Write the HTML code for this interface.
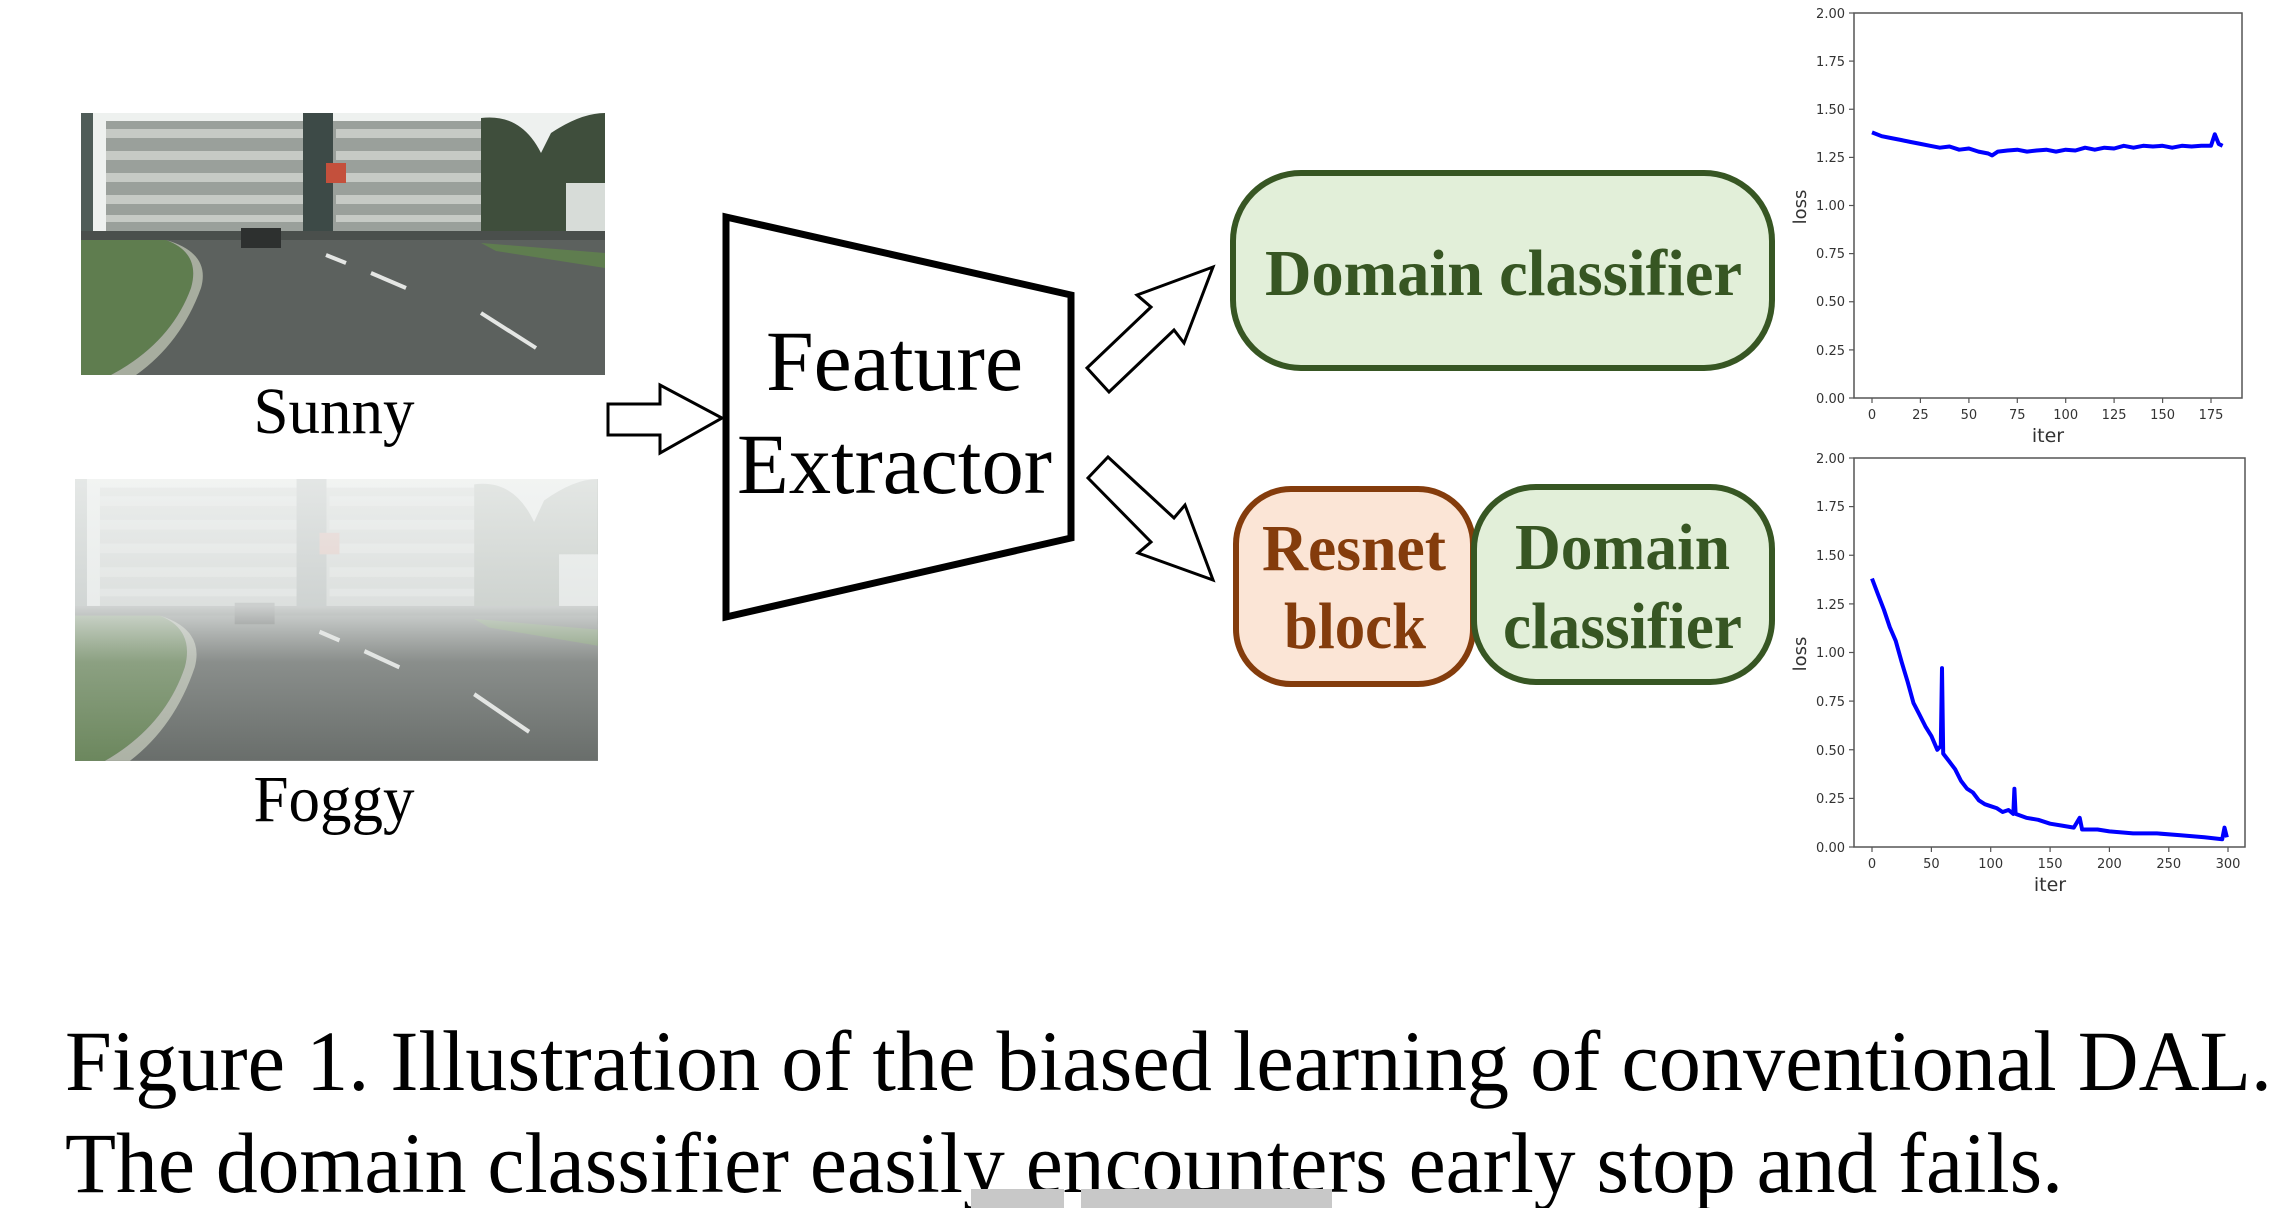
<!DOCTYPE html>
<html><head><meta charset="utf-8"><style>html,body{margin:0;padding:0;background:#fff}svg{display:block}</style></head>
<body>
<svg width="2285" height="1208" viewBox="0 0 2285 1208" xmlns="http://www.w3.org/2000/svg">
<defs>
<g id="scene">
  <rect x="0" y="0" width="524" height="262" fill="#eef1ef"/>
  <rect x="25" y="8" width="380" height="117" fill="#9aa09b"/>
  <g fill="#c6cac5">
    <rect x="25" y="16" width="215" height="9"/><rect x="255" y="16" width="150" height="9"/>
    <rect x="25" y="38" width="215" height="9"/><rect x="255" y="38" width="150" height="9"/>
    <rect x="25" y="60" width="215" height="9"/><rect x="255" y="60" width="150" height="9"/>
    <rect x="25" y="82" width="215" height="9"/><rect x="255" y="82" width="150" height="9"/>
    <rect x="25" y="102" width="215" height="7"/><rect x="255" y="102" width="150" height="7"/>
  </g>
  <rect x="222" y="0" width="30" height="125" fill="#3d4a47"/>
  <rect x="245" y="50" width="20" height="20" fill="#c4503c"/>
  <rect x="0" y="0" width="12" height="130" fill="#4f5c58"/>
  <path d="M400 5 Q440 0 460 40 L470 20 Q500 0 524 0 L524 135 L400 135 Z" fill="#3f4e3c"/>
  <rect x="485" y="70" width="39" height="60" fill="#d7dcd8"/>
  <rect x="0" y="118" width="524" height="14" fill="#4a4f4c"/>
  <path d="M0 127 L524 127 L524 262 L0 262 Z" fill="#5c615e"/>
  <path d="M0 127 L85 127 Q120 140 110 175 Q90 230 30 262 L0 262 Z" fill="#5f7d4f"/>
  <path d="M85 127 Q130 140 120 175 Q100 230 55 262 L30 262 Q90 230 110 175 Q120 140 85 127Z" fill="#a7ad9f"/>
  <path d="M400 130 L524 140 L524 155 L415 138 Z" fill="#5f7d4f"/>
  <path d="M160 115 h40 v20 h-40z" fill="#2d302f"/>
  <g stroke="#e4e6e4" stroke-width="4">
    <line x1="245" y1="142" x2="265" y2="150"/><line x1="290" y1="160" x2="325" y2="175"/><line x1="400" y1="200" x2="455" y2="235"/>
  </g>
</g>
<linearGradient id="fog" x1="0" y1="0" x2="0" y2="1">
  <stop offset="0" stop-color="#f2f4f3" stop-opacity="0.92"/>
  <stop offset="0.45" stop-color="#e8ebea" stop-opacity="0.85"/>
  <stop offset="0.65" stop-color="#dfe2e0" stop-opacity="0.35"/>
  <stop offset="1" stop-color="#dfe2e0" stop-opacity="0.1"/>
</linearGradient>
</defs>

<g transform="translate(81,113)"><use href="#scene"/></g>
<g transform="translate(75,479) scale(0.998,1.076)"><use href="#scene"/><rect width="524" height="262" fill="url(#fog)"/></g>

<g font-family="'Liberation Serif', serif" fill="#000">
<text x="334" y="433" font-size="66" text-anchor="middle" textLength="161" lengthAdjust="spacingAndGlyphs">Sunny</text>
<text x="334" y="821" font-size="66" text-anchor="middle" textLength="161" lengthAdjust="spacingAndGlyphs">Foggy</text>
</g>

<polygon points="608,404 660,404 660,385 722,418 660,453 660,435 608,435" fill="#fff" stroke="#000" stroke-width="3"/>

<polygon points="726,217 1071,295 1071,538 726,617" fill="#fff" stroke="#000" stroke-width="7" stroke-linejoin="miter"/>
<g font-family="'Liberation Serif', serif" fill="#000" font-size="86">
<text x="766" y="390" textLength="257" lengthAdjust="spacingAndGlyphs">Feature</text>
<text x="737" y="493" textLength="315" lengthAdjust="spacingAndGlyphs">Extractor</text>
</g>

<polygon points="1087,368 1151,307 1137,295 1213,267 1184,343 1174,330 1109,392" fill="#fff" stroke="#000" stroke-width="3" stroke-linejoin="miter"/>
<polygon points="1108,457 1174,518 1185,505 1213,580 1138,553 1151,542 1088,478" fill="#fff" stroke="#000" stroke-width="3" stroke-linejoin="miter"/>

<rect x="1233" y="173" width="539" height="195" rx="68" fill="#e2efd9" stroke="#375623" stroke-width="6"/>
<rect x="1236" y="489" width="237" height="195" rx="55" fill="#fbe5d6" stroke="#843c0c" stroke-width="6"/>
<rect x="1474" y="487" width="298" height="195" rx="62" fill="#e2efd9" stroke="#375623" stroke-width="6"/>
<g font-family="'Liberation Serif', serif" font-weight="bold" font-size="66">
<text x="1265" y="295" fill="#375623" textLength="477" lengthAdjust="spacingAndGlyphs">Domain classifier</text>
<text x="1262" y="570" fill="#843c0c" textLength="184" lengthAdjust="spacingAndGlyphs">Resnet</text>
<text x="1284" y="648" fill="#843c0c" textLength="142" lengthAdjust="spacingAndGlyphs">block</text>
<text x="1515" y="569" fill="#375623" textLength="215" lengthAdjust="spacingAndGlyphs">Domain</text>
<text x="1503" y="648" fill="#375623" textLength="239" lengthAdjust="spacingAndGlyphs">classifier</text>
</g>

<g font-family="'DejaVu Sans', sans-serif" fill="#333" font-size="13">
<rect x="1854" y="13" width="388" height="385" fill="none" stroke="#555" stroke-width="1.5"/>
<g stroke="#555" stroke-width="1.2">
<line x1="1849" y1="398" x2="1854" y2="398"/><line x1="1849" y1="349.9" x2="1854" y2="349.9"/><line x1="1849" y1="301.75" x2="1854" y2="301.75"/><line x1="1849" y1="253.6" x2="1854" y2="253.6"/><line x1="1849" y1="205.5" x2="1854" y2="205.5"/><line x1="1849" y1="157.4" x2="1854" y2="157.4"/><line x1="1849" y1="109.25" x2="1854" y2="109.25"/><line x1="1849" y1="61.1" x2="1854" y2="61.1"/><line x1="1849" y1="13" x2="1854" y2="13"/>
<line x1="1872" y1="398" x2="1872" y2="403"/><line x1="1920.4" y1="398" x2="1920.4" y2="403"/><line x1="1968.9" y1="398" x2="1968.9" y2="403"/><line x1="2017.3" y1="398" x2="2017.3" y2="403"/><line x1="2065.7" y1="398" x2="2065.7" y2="403"/><line x1="2114.1" y1="398" x2="2114.1" y2="403"/><line x1="2162.6" y1="398" x2="2162.6" y2="403"/><line x1="2211" y1="398" x2="2211" y2="403"/>
</g>
<g text-anchor="end">
<text x="1845" y="403">0.00</text><text x="1845" y="355">0.25</text><text x="1845" y="306">0.50</text><text x="1845" y="258">0.75</text><text x="1845" y="210">1.00</text><text x="1845" y="162">1.25</text><text x="1845" y="114">1.50</text><text x="1845" y="66">1.75</text><text x="1845" y="18">2.00</text>
</g>
<g text-anchor="middle">
<text x="1872" y="419">0</text><text x="1920.4" y="419">25</text><text x="1968.9" y="419">50</text><text x="2017.3" y="419">75</text><text x="2065.7" y="419">100</text><text x="2114.1" y="419">125</text><text x="2162.6" y="419">150</text><text x="2211" y="419">175</text>
<text x="2048" y="442" font-size="19">iter</text>
<text transform="translate(1806,207) rotate(-90)" font-size="18">loss</text>
</g>
<polyline fill="none" stroke="#0000ff" stroke-width="4" stroke-linejoin="round" points="1872,132.4 1881.7,136.2 1891.4,138.1 1901.1,140 1910.7,142 1920.4,143.9 1930.1,145.8 1939.8,147.7 1949.5,146.5 1959.2,149.7 1968.9,148.5 1978.5,151.6 1988.2,153.5 1992.1,155.4 1997.9,151.6 2007.6,150.5 2017.3,149.7 2027,151.6 2036.6,150.5 2046.3,149.7 2056,151.6 2065.7,149.7 2075.4,150.5 2085.1,147.7 2094.8,149.7 2104.4,147.7 2114.1,148.5 2123.8,145.8 2133.5,147.7 2143.2,145.8 2152.9,146.5 2162.6,145.8 2172.2,147.7 2181.9,145.8 2191.6,146.5 2201.3,145.8 2211,145.8 2214.8,134.3 2218.7,143.9 2222.6,145.8"/>
</g>

<g font-family="'DejaVu Sans', sans-serif" fill="#333" font-size="13">
<rect x="1854" y="458" width="391" height="389" fill="none" stroke="#555" stroke-width="1.5"/>
<g stroke="#555" stroke-width="1.2">
<line x1="1849" y1="847" x2="1854" y2="847"/><line x1="1849" y1="798.4" x2="1854" y2="798.4"/><line x1="1849" y1="749.75" x2="1854" y2="749.75"/><line x1="1849" y1="701.1" x2="1854" y2="701.1"/><line x1="1849" y1="652.5" x2="1854" y2="652.5"/><line x1="1849" y1="603.9" x2="1854" y2="603.9"/><line x1="1849" y1="555.25" x2="1854" y2="555.25"/><line x1="1849" y1="506.6" x2="1854" y2="506.6"/><line x1="1849" y1="458" x2="1854" y2="458"/>
<line x1="1872" y1="847" x2="1872" y2="852"/><line x1="1931.4" y1="847" x2="1931.4" y2="852"/><line x1="1990.7" y1="847" x2="1990.7" y2="852"/><line x1="2050.1" y1="847" x2="2050.1" y2="852"/><line x1="2109.4" y1="847" x2="2109.4" y2="852"/><line x1="2168.8" y1="847" x2="2168.8" y2="852"/><line x1="2228" y1="847" x2="2228" y2="852"/>
</g>
<g text-anchor="end">
<text x="1845" y="852">0.00</text><text x="1845" y="803">0.25</text><text x="1845" y="755">0.50</text><text x="1845" y="706">0.75</text><text x="1845" y="657">1.00</text><text x="1845" y="609">1.25</text><text x="1845" y="560">1.50</text><text x="1845" y="511">1.75</text><text x="1845" y="463">2.00</text>
</g>
<g text-anchor="middle">
<text x="1872" y="868">0</text><text x="1931.4" y="868">50</text><text x="1990.7" y="868">100</text><text x="2050.1" y="868">150</text><text x="2109.4" y="868">200</text><text x="2168.8" y="868">250</text><text x="2228" y="868">300</text>
<text x="2050" y="891" font-size="19">iter</text>
<text transform="translate(1806,654) rotate(-90)" font-size="18">loss</text>
</g>
<polyline fill="none" stroke="#0000ff" stroke-width="4" stroke-linejoin="round" points="1872,578.6 1877.9,594.2 1883.9,609.7 1889.8,627.2 1895.7,640.8 1901.7,662.2 1907.6,681.7 1913.5,703.1 1919.5,714.7 1925.4,726.4 1931.4,736.1 1937.3,749.8 1940.8,745.9 1942,668.1 1943.2,753.6 1949.2,761.4 1955.1,769.2 1961,780.9 1967,788.7 1972.9,792.5 1978.8,800.3 1984.8,804.2 1990.7,806.2 1996.6,808.1 2002.6,812 2008.5,810 2013.3,813.9 2014.4,788.7 2015.6,813.9 2026.3,817.8 2038.2,819.8 2050.1,823.7 2062,825.6 2073.8,827.6 2079.7,817.8 2082.1,829.5 2097.5,829.5 2109.4,831.4 2133.1,833.4 2156.9,833.4 2180.6,835.3 2204.4,837.3 2222.2,839.2 2224.5,827.6 2226.9,837.3"/>
</g>

<g font-family="'Liberation Serif', serif" fill="#000" font-size="86">
<text x="65" y="1090" textLength="2207" lengthAdjust="spacingAndGlyphs">Figure 1. Illustration of the biased learning of conventional DAL.</text>
<text x="65" y="1192" textLength="1998" lengthAdjust="spacingAndGlyphs">The domain classifier easily encounters early stop and fails.</text>
</g>
<rect x="971" y="1189" width="93" height="19" fill="#c8c8c8"/>
<rect x="1081" y="1189" width="251" height="19" fill="#c8c8c8"/>
</svg>
</body></html>
